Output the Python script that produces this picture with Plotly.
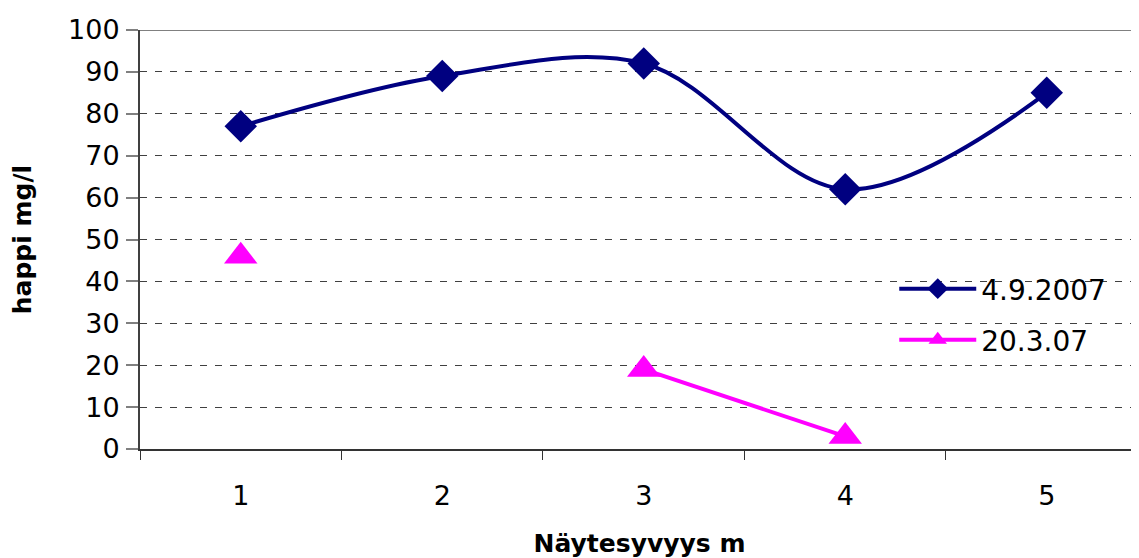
import plotly.graph_objects as go

categories = ["1", "2", "3", "4", "5"]
series_sep = [77, 89, 92, 62, 85]          # 4.9.2007
series_mar = [46, None, 19, 3, None]       # 20.3.07
y_ticks = [0, 10, 20, 30, 40, 50, 60, 70, 80, 90, 100]

FONT = "DejaVu Sans"

fig = go.Figure()
fig.add_trace(go.Scatter(
    x=categories, y=series_sep, name="4.9.2007", mode="lines+markers",
    line=dict(color="#000080", width=4, shape="spline", smoothing=1),
    marker=dict(symbol="diamond", size=25, color="#000080"),
    legend="legend",
))
fig.add_trace(go.Scatter(
    x=categories, y=series_mar, name="20.3.07", mode="lines+markers",
    line=dict(color="#FF00FF", width=4), connectgaps=False,
    marker=dict(symbol="triangle-up", size=29, color="#FF00FF"),
    legend="legend2",
))

fig.add_shape(type="line", xref="paper", yref="y", x0=0, x1=1, y0=100, y1=100,
              line=dict(color="#808080", width=2), layer="above")

leg_common = dict(xanchor="left", yanchor="middle",
                  font=dict(size=28, family=FONT), bgcolor="rgba(0,0,0,0)",
                  itemwidth=77)

# page body has an 8px default margin, so the figure is sized to fit the window
fig.update_layout(
    width=1131, height=550,
    margin=dict(l=132, r=0, t=22, b=109, autoexpand=False),
    paper_bgcolor="white", plot_bgcolor="white",
    font=dict(family=FONT, color="black", size=27),
    showlegend=True,
    legend=dict(x=0.755, y=(449 - 289) / 419, **leg_common),
    legend2=dict(x=0.755, y=(449 - 340) / 419, **leg_common),
    xaxis=dict(
        type="category", range=[-0.5, 4.458], tickson="boundaries",
        ticks="outside", ticklen=9, tickcolor="#333333", tickwidth=1,
        showline=True, linecolor="#333333", linewidth=2,
        showgrid=False, zeroline=False, automargin=False,
        tickfont=dict(size=27, family=FONT), ticklabelstandoff=22,
        title=dict(text="<b>Näytesyvyys m</b>", font=dict(size=25, family=FONT), standoff=28),
    ),
    yaxis=dict(
        range=[0, 100], tickvals=y_ticks,
        ticks="outside", ticklen=12, tickcolor="#808080", tickwidth=2,
        showline=True, linecolor="#404040", linewidth=2,
        showgrid=True, gridcolor="#404040", gridwidth=1, griddash="7px,8px",
        zeroline=False, automargin=False,
        tickfont=dict(size=27, family=FONT), ticklabelstandoff=1,
        title=dict(text="<b>happi mg/l</b>", font=dict(size=25, family=FONT), standoff=30),
    ),
)

fig.write_html("out.html")
